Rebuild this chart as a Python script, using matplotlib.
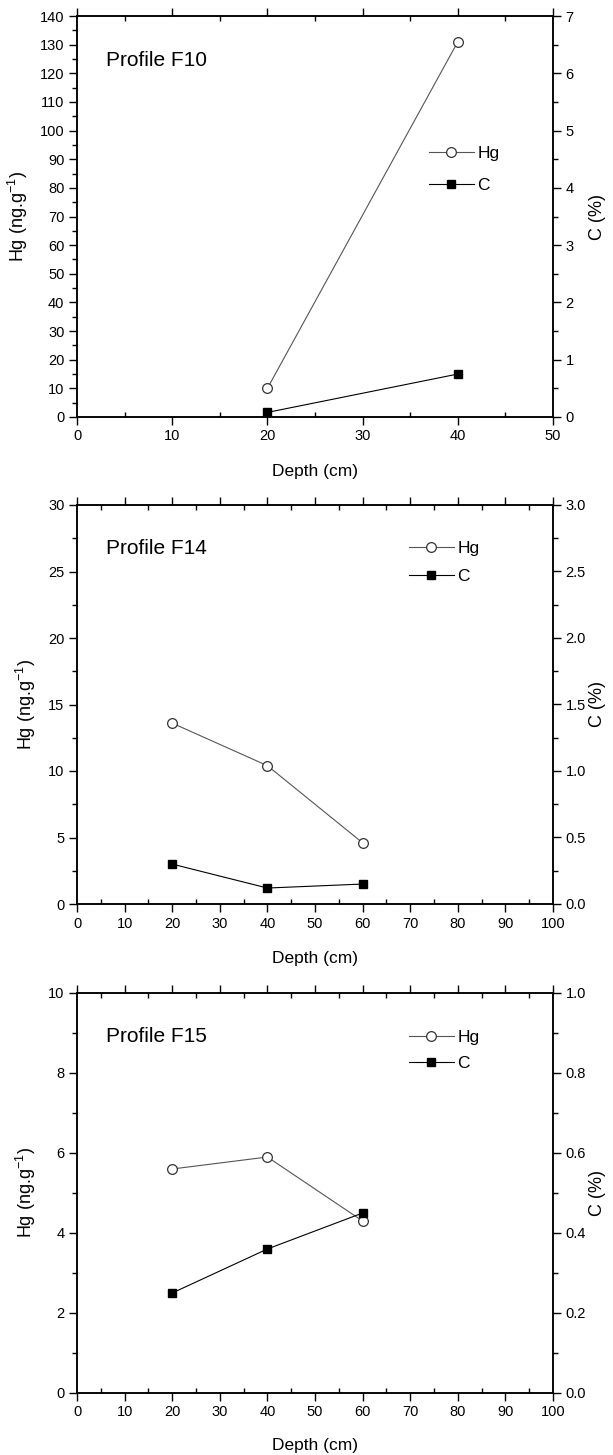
import numpy as np
import matplotlib
matplotlib.use('Agg')
import matplotlib.pyplot as plt
from matplotlib.ticker import MultipleLocator, FormatStrFormatter

plt.rcParams['font.family'] = ['Liberation Sans', 'DejaVu Sans']

# Depths (cm) and values
depth_f10 = [20, 40]
hg_f10 = [10, 131]
c_f10 = [0.08, 0.75]

depth_f14 = [20, 40, 60]
hg_f14 = [13.6, 10.4, 4.6]
c_f14 = [0.30, 0.12, 0.15]

depth_f15 = [20, 40, 60]
hg_f15 = [5.6, 5.9, 4.3]
c_f15 = [0.25, 0.36, 0.45]

titles = ['Profile F10', 'Profile F14', 'Profile F15']

W, H = 613, 1455
fig = plt.figure(figsize=(W / 100, H / 100), dpi=100)

# axes boxes in pixels: (top, bottom)
boxes = [(16, 417), (505, 904), (993, 1393)]
x0, x1 = 77, 553

# per-panel settings
panels = [
  dict(depth=depth_f10, hg=hg_f10, c=c_f10, xmax=50, hgmax=140, hgmaj=10, hgmin=5,
       cmax=7, cmaj=1, cmin=0.5, cfmt='%d', leg=(0.721, 0.697), lspace=0.95, xpad=15),
  dict(depth=depth_f14, hg=hg_f14, c=c_f14, xmax=100, hgmax=30, hgmaj=5, hgmin=2.5,
       cmax=3, cmaj=0.5, cmin=0.25, cfmt='%.1f', leg=(0.679, 0.932), lspace=0.75, xpad=15),
  dict(depth=depth_f15, hg=hg_f15, c=c_f15, xmax=100, hgmax=10, hgmaj=2, hgmin=1,
       cmax=1, cmaj=0.2, cmin=0.1, cfmt='%.1f', leg=(0.679, 0.93), lspace=0.65, xpad=13),
]

for (top, bot), p, title in zip(boxes, panels, titles):
  ax = fig.add_axes([x0 / W, (H - bot) / H, (x1 - x0) / W, (bot - top) / H])
  ax2 = ax.twinx()

  l1, = ax.plot(p['depth'], p['hg'], '-o', color='#555555', lw=0.8,
                mfc='white', mec='#333333', ms=7, mew=0.9, label='Hg', zorder=3)
  l2, = ax2.plot(p['depth'], p['c'], '-s', color='black', lw=0.8,
                 mfc='black', mec='black', ms=6, label='C', zorder=3)

  ax.set_xlim(0, p['xmax'])
  ax.set_ylim(0, p['hgmax'])
  ax2.set_ylim(0, p['cmax'])

  ax.xaxis.set_major_locator(MultipleLocator(10))
  ax.xaxis.set_minor_locator(MultipleLocator(5))
  ax.yaxis.set_major_locator(MultipleLocator(p['hgmaj']))
  ax.yaxis.set_minor_locator(MultipleLocator(p['hgmin']))
  ax2.yaxis.set_major_locator(MultipleLocator(p['cmaj']))
  ax2.yaxis.set_minor_locator(MultipleLocator(p['cmin']))
  ax2.yaxis.set_major_formatter(FormatStrFormatter(p['cfmt']))

  for a in (ax, ax2):
    for s in a.spines.values():
      s.set_linewidth(1.1)

  ax.tick_params(axis='x', which='major', direction='out', length=6, width=1.0,
                 labelsize=10.5, pad=3, top=True)
  ax.tick_params(axis='x', which='minor', direction='in', length=3.5, width=1.0, top=True)
  ax.tick_params(axis='x', which='both', labeltop=False)
  ax.tick_params(axis='y', which='major', direction='out', length=6, width=1.0,
                 labelsize=10.5, pad=3)
  ax.tick_params(axis='y', which='minor', direction='out', length=3.5, width=1.0)
  ax2.tick_params(axis='y', which='major', direction='out', length=6, width=1.0,
                  labelsize=10.5, pad=3)
  ax2.tick_params(axis='y', which='minor', direction='out', length=3.5, width=1.0)

  ax.set_xlabel('Depth (cm)', fontsize=12.5, labelpad=p['xpad'])
  ax.set_ylabel('Hg (ng.g$^{\\mathregular{-1}}$)', fontsize=13, labelpad=7)
  ax2.set_ylabel('C (%)', fontsize=13)
  ax2.yaxis.set_label_coords(1.075, 0.5)

  ax.text(0.061, 0.89, title, transform=ax.transAxes, fontsize=15,
          ha='left', va='center')

  ax2.legend([l1, l2], ['Hg', 'C'], loc='upper left', bbox_to_anchor=p['leg'],
             frameon=False, fontsize=12.5, handlelength=2.6, handletextpad=0.2,
             borderpad=0, labelspacing=p['lspace'])

fig.savefig('out.png', dpi=100)
